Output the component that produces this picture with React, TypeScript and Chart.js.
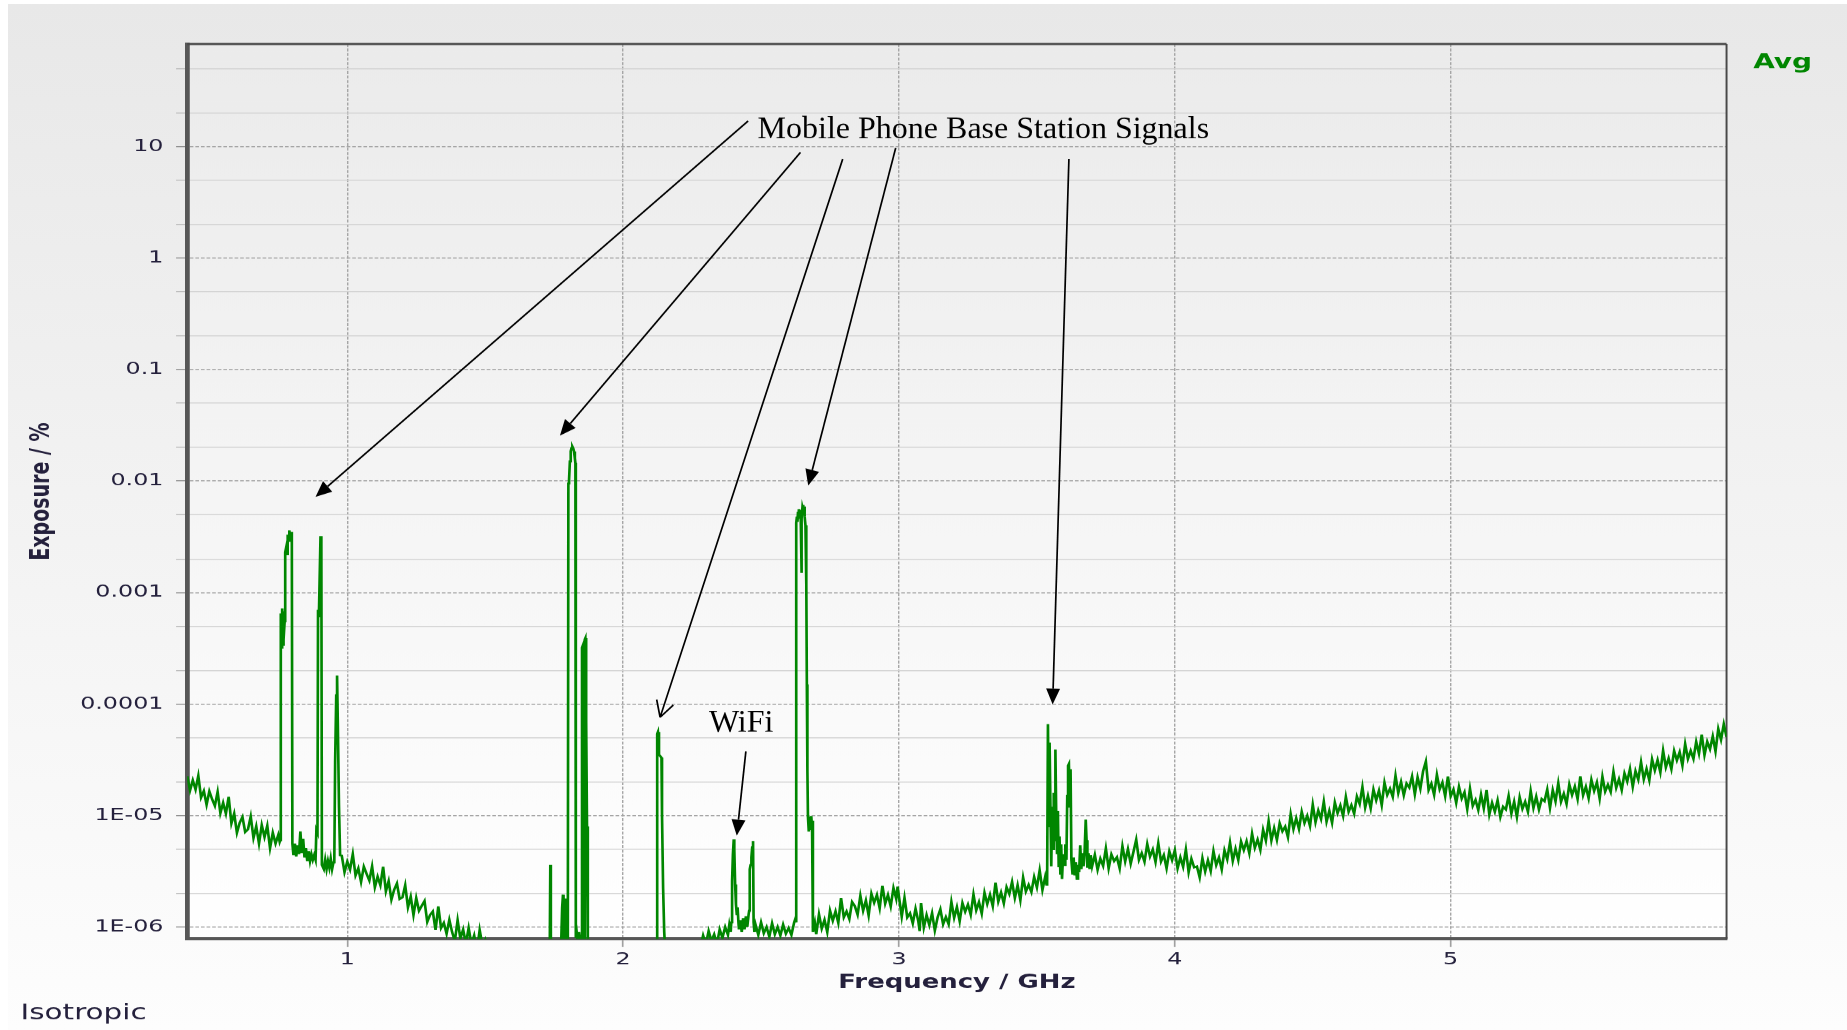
import { useEffect, useRef } from "react";
import { Chart, registerables } from "chart.js";

Chart.register(...registerables);
Chart.defaults.font.family = "DejaVu Sans";

// the source chart image was stretched sideways (~1.4x), so the canvas is drawn
// narrow and widened by css; the hand added notes are drawn un-stretched
const PAGE_W = 1839;
const PAGE_H = 1026;
const CANVAS_W = 1313;
const STRETCH = PAGE_W / CANVAS_W;

const seriesName = "Avg";
const probeName = "Isotropic";
const xTitle = "Frequency / GHz";
const yTitle = "Exposure / %";

const freqMin = 0.42;
const freqMax = 6.0;
const exposureMin = 7.8e-7;
const exposureMax = 83;

const freqTicks = [1, 2, 3, 4, 5];
const decadeTicks = [1e-6, 1e-5, 1e-4, 1e-3, 1e-2, 0.1, 1, 10];
const decadeLabels = ["1E-06", "1E-05", "0.0001", "0.001", "0.01", "0.1", "1", "10"];
const minorTicks = [2e-6, 5e-6, 2e-5, 5e-5, 2e-4, 5e-4, 2e-3, 5e-3, 0.02, 0.05, 0.2, 0.5, 2, 5, 20, 50];

// sweep: [frequency GHz, exposure %]
const floor042to075 = [
  [0.42, 2.25e-5], [0.43, 1.68e-5], [0.44, 2.07e-5], [0.45, 1.71e-5], [0.46, 2.27e-5], [0.47, 1.45e-5],
  [0.48, 1.66e-5], [0.49, 1.25e-5], [0.5, 1.65e-5], [0.51, 1.4e-5], [0.52, 1.22e-5], [0.53, 1.63e-5],
  [0.54, 1.05e-5], [0.55, 1.3e-5], [0.56, 1.04e-5], [0.57, 1.47e-5], [0.58, 8.5e-6], [0.59, 1.04e-5],
  [0.6, 7.0e-6], [0.61, 8.6e-6], [0.62, 9.7e-6], [0.63, 7.1e-6], [0.64, 7.5e-6], [0.65, 9.8e-6],
  [0.66, 6.3e-6], [0.67, 8.0e-6], [0.68, 5.6e-6], [0.69, 8.2e-6], [0.7, 6.4e-6], [0.71, 8.1e-6],
  [0.72, 5.1e-6], [0.73, 7.0e-6], [0.74, 5.6e-6], [0.75, 6.7e-6], [0.755, 5.8e-6],
];
const gsm800 = [
  [0.757, 6.0e-6], [0.758, 3.0e-4], [0.76, 6.5e-4], [0.762, 3.2e-4], [0.764, 7.2e-4], [0.766, 3.4e-4],
  [0.768, 6.8e-4], [0.77, 3.8e-4], [0.773, 5.5e-4], [0.775, 2.3e-3], [0.778, 2.5e-3], [0.781, 2.2e-3],
  [0.784, 3.3e-3], [0.787, 2.9e-3], [0.79, 3.6e-3], [0.793, 3.1e-3], [0.796, 3.5e-3], [0.799, 3.0e-3],
  [0.801, 5.6e-6],
];
const floor080to089 = [
  [0.805, 4.4e-6], [0.81, 5.6e-6], [0.815, 4.3e-6], [0.82, 5.4e-6], [0.825, 4.5e-6], [0.83, 7.2e-6],
  [0.835, 4.6e-6], [0.84, 6.2e-6], [0.845, 4.2e-6], [0.85, 5.1e-6], [0.855, 3.9e-6], [0.86, 4.8e-6],
  [0.865, 3.9e-6], [0.87, 4.5e-6], [0.875, 4.0e-6], [0.88, 4.4e-6], [0.885, 4.0e-6], [0.888, 7.4e-6],
  [0.892, 7.0e-6],
];
const gsm900 = [
  [0.894, 7.0e-4], [0.897, 6.0e-4], [0.9, 1.4e-3], [0.903, 3.2e-3], [0.906, 2.8e-3], [0.908, 3.6e-6],
];
const floor091to095 = [
  [0.915, 3.3e-6], [0.92, 4.0e-6], [0.925, 3.3e-6], [0.93, 3.9e-6], [0.935, 3.4e-6], [0.94, 4.1e-6],
  [0.945, 3.3e-6], [0.95, 3.8e-6],
];
const spike960 = [
  [0.953, 4.0e-6], [0.956, 3.0e-5], [0.96, 1.2e-4], [0.963, 1.8e-4], [0.966, 6.0e-5], [0.97, 1.2e-5],
  [0.974, 4.4e-6],
];
const floor098to151 = [
  [0.98, 4.37e-6], [0.99, 3.1e-6], [1.0, 3.85e-6], [1.01, 3.28e-6], [1.02, 4.5e-6], [1.03, 2.9e-6],
  [1.04, 3.36e-6], [1.05, 2.54e-6], [1.06, 3.48e-6], [1.07, 3.0e-6], [1.08, 2.61e-6], [1.09, 3.5e-6],
  [1.1, 2.27e-6], [1.11, 2.83e-6], [1.12, 2.37e-6], [1.13, 3.47e-6], [1.14, 2.09e-6], [1.15, 2.58e-6],
  [1.16, 1.76e-6], [1.17, 2.16e-6], [1.18, 2.46e-6], [1.19, 1.78e-6], [1.2, 1.84e-6], [1.21, 2.37e-6],
  [1.22, 1.5e-6], [1.23, 1.87e-6], [1.24, 1.28e-6], [1.25, 1.82e-6], [1.26, 1.4e-6], [1.27, 1.55e-6],
  [1.28, 1.71e-6], [1.29, 1.11e-6], [1.3, 1.28e-6], [1.31, 1.38e-6], [1.32, 9.4e-7], [1.33, 1.53e-6],
  [1.34, 9.8e-7], [1.35, 1.09e-6], [1.36, 8.7e-7], [1.37, 1.16e-6], [1.38, 9.0e-7], [1.39, 7.5e-7],
  [1.4, 1.15e-6], [1.41, 7.9e-7], [1.42, 9.5e-7], [1.43, 7.1e-7], [1.44, 9.8e-7], [1.45, 7.0e-7],
  [1.46, 8.4e-7], [1.47, 6.1e-7], [1.48, 9.4e-7], [1.49, 6.8e-7], [1.5, 7.7e-7], [1.51, 6.2e-7],
];
const below151to180 = [
  [1.55, 6.2e-7], [1.6, 6.4e-7], [1.65, 6.0e-7], [1.7, 5.8e-7], [1.734, 6.0e-7], [1.736, 3.6e-6],
  [1.738, 6.0e-7], [1.775, 6.5e-7], [1.779, 1.5e-6], [1.782, 1.95e-6], [1.784, 7.0e-7], [1.787, 1.8e-6],
  [1.79, 6.5e-7], [1.7995, 7.0e-7],
];
const dcs1800 = [
  [1.8015, 9.5e-3], [1.804, 1.03e-2], [1.807, 1.5e-2], [1.81, 1.85e-2], [1.813, 1.98e-2], [1.816, 2.04e-2],
  [1.819, 1.97e-2], [1.822, 1.84e-2], [1.825, 1.6e-2], [1.827, 1.45e-2], [1.8285, 8.0e-7], [1.832, 8.8e-7],
  [1.836, 7.0e-7], [1.84, 9.0e-7], [1.845, 7.0e-7], [1.849, 7.0e-7], [1.851, 3.2e-4], [1.853, 3.3e-4],
  [1.855, 7.0e-7], [1.859, 7.0e-7], [1.861, 3.8e-4], [1.863, 3.9e-4], [1.866, 7.0e-5], [1.869, 8.0e-6],
  [1.872, 7.0e-7],
];
const below187to212 = [
  [1.9, 6.0e-7], [1.95, 6.3e-7], [2.0, 5.9e-7], [2.05, 6.2e-7], [2.1, 6.0e-7], [2.122, 6.0e-7],
];
const umts2100 = [
  [2.1235, 5.4e-5], [2.126, 5.6e-5], [2.129, 4.9e-5], [2.131, 3.5e-5], [2.135, 3.4e-5], [2.139, 3.3e-5],
  [2.141, 1.0e-5], [2.145, 2.2e-6], [2.149, 9.0e-7], [2.152, 6.5e-7],
];
const floor215to239 = [
  [2.2, 6.0e-7], [2.25, 6.2e-7], [2.28, 6.5e-7], [2.29, 8.4e-7], [2.3, 7.0e-7], [2.31, 9.2e-7],
  [2.32, 7.5e-7], [2.33, 8.6e-7], [2.34, 7.0e-7], [2.35, 9.5e-7], [2.36, 8.0e-7], [2.37, 1.0e-6],
  [2.38, 8.5e-7], [2.385, 1.05e-6], [2.39, 9.0e-7],
];
const wifi24 = [
  [2.392, 1.1e-6], [2.395, 2.6e-6], [2.398, 4.5e-6], [2.401, 6.1e-6], [2.403, 5.0e-6], [2.406, 2.4e-6],
  [2.409, 1.6e-6], [2.412, 1.3e-6], [2.415, 1.5e-6], [2.418, 1.1e-6], [2.42, 9.5e-7], [2.425, 1.15e-6],
  [2.43, 9.0e-7], [2.435, 1.2e-6], [2.44, 9.5e-7], [2.445, 1.25e-6], [2.45, 1.0e-6], [2.455, 1.3e-6],
  [2.457, 1.4e-6], [2.459, 3.3e-6], [2.462, 3.6e-6], [2.465, 4.2e-6], [2.468, 5.2e-6], [2.471, 5.9e-6],
  [2.473, 1.1e-6], [2.476, 9.0e-7],
];
const floor248to262 = [
  [2.48, 1.05e-6], [2.49, 8.5e-7], [2.5, 1.1e-6], [2.51, 8.8e-7], [2.52, 1.0e-6], [2.53, 8.2e-7],
  [2.54, 1.08e-6], [2.55, 8.6e-7], [2.56, 1.0e-6], [2.57, 8.4e-7], [2.58, 1.05e-6], [2.59, 8.7e-7],
  [2.6, 9.8e-7], [2.61, 8.5e-7], [2.62, 1.1e-6], [2.625, 1.2e-6],
];
const lte2600 = [
  [2.627, 1.1e-6], [2.628, 4.2e-3], [2.63, 4.8e-3], [2.632, 4.3e-3], [2.634, 5.3e-3], [2.636, 4.6e-3],
  [2.638, 5.6e-3], [2.64, 4.9e-3], [2.642, 5.5e-3], [2.644, 4.4e-3], [2.646, 1.5e-3], [2.648, 4.6e-3],
  [2.65, 5.8e-3], [2.652, 6.1e-3], [2.654, 5.4e-3], [2.656, 5.9e-3], [2.658, 4.8e-3], [2.661, 4.0e-3],
  [2.664, 1.2e-3], [2.666, 1.5e-4], [2.668, 2.5e-5], [2.67, 9.8e-6], [2.673, 7.2e-6], [2.676, 9.6e-6],
  [2.679, 7.4e-6], [2.682, 9.9e-6], [2.685, 7.6e-6], [2.687, 9.0e-6], [2.689, 9.0e-7],
];
const floor269to353 = [
  [2.695, 1.09e-6], [2.7, 8.6e-7], [2.71, 1.3e-6], [2.72, 9.7e-7], [2.73, 1.16e-6], [2.74, 9.0e-7],
  [2.75, 1.4e-6], [2.76, 1.14e-6], [2.77, 1.38e-6], [2.78, 1.09e-6], [2.79, 1.82e-6], [2.8, 1.22e-6],
  [2.81, 1.38e-6], [2.82, 1.18e-6], [2.83, 1.68e-6], [2.84, 1.54e-6], [2.85, 1.29e-6], [2.86, 1.91e-6],
  [2.87, 1.4e-6], [2.88, 1.73e-6], [2.89, 1.27e-6], [2.9, 1.99e-6], [2.91, 1.65e-6], [2.92, 1.94e-6],
  [2.93, 1.48e-6], [2.94, 2.35e-6], [2.95, 1.62e-6], [2.96, 1.94e-6], [2.97, 1.53e-6], [2.98, 2.24e-6],
  [2.99, 1.79e-6], [2.995, 2.3e-6], [3.0, 1.87e-6], [3.01, 1.24e-6], [3.02, 1.83e-6], [3.03, 1.22e-6],
  [3.04, 1.33e-6], [3.05, 1.08e-6], [3.06, 1.46e-6], [3.07, 1.13e-6], [3.075, 9.2e-7], [3.08, 1.64e-6],
  [3.09, 9.9e-7], [3.1, 1.28e-6], [3.11, 1.04e-6], [3.12, 1.33e-6], [3.13, 9.3e-7], [3.14, 1.22e-6],
  [3.15, 1.44e-6], [3.16, 1.06e-6], [3.17, 1.23e-6], [3.18, 1.06e-6], [3.19, 1.68e-6], [3.2, 1.21e-6],
  [3.21, 1.51e-6], [3.22, 1.13e-6], [3.23, 1.64e-6], [3.24, 1.37e-6], [3.25, 1.59e-6], [3.26, 1.29e-6],
  [3.27, 1.96e-6], [3.28, 1.41e-6], [3.29, 1.67e-6], [3.3, 1.32e-6], [3.31, 2.03e-6], [3.32, 1.61e-6],
  [3.33, 1.95e-6], [3.34, 1.54e-6], [3.35, 2.5e-6], [3.36, 1.69e-6], [3.37, 2.04e-6], [3.38, 1.63e-6],
  [3.39, 2.28e-6], [3.4, 1.98e-6], [3.41, 2.54e-6], [3.42, 1.82e-6], [3.43, 2.37e-6], [3.44, 1.74e-6],
  [3.45, 2.78e-6], [3.46, 2.08e-6], [3.47, 2.39e-6], [3.48, 2.06e-6], [3.49, 2.81e-6], [3.5, 2.27e-6],
  [3.51, 3.22e-6], [3.52, 2.15e-6], [3.53, 2.81e-6], [3.535, 2.4e-6],
];
const band3500 = [
  [3.537, 2.5e-6], [3.54, 6.6e-5], [3.543, 8.0e-6], [3.546, 4.5e-5], [3.549, 1.2e-5], [3.552, 3.5e-6],
  [3.555, 1.1e-5], [3.558, 5.0e-6], [3.561, 1.6e-5], [3.564, 6.0e-6], [3.567, 3.9e-5], [3.57, 1.0e-5],
  [3.573, 4.5e-6], [3.576, 1.1e-5], [3.579, 3.5e-6], [3.582, 6.5e-6], [3.585, 3.0e-6], [3.588, 5.5e-6],
  [3.591, 2.7e-6], [3.595, 4.5e-6], [3.599, 3.6e-6], [3.603, 5.5e-6], [3.607, 4.0e-6], [3.61, 1.5e-5],
  [3.613, 2.8e-5], [3.616, 2.9e-5], [3.619, 1.2e-5], [3.622, 2.6e-5], [3.625, 4.0e-6], [3.629, 3.0e-6],
  [3.633, 4.2e-6], [3.637, 2.9e-6], [3.641, 3.8e-6], [3.645, 2.7e-6], [3.649, 3.6e-6], [3.653, 3.1e-6],
  [3.657, 5.4e-6], [3.661, 3.3e-6], [3.665, 4.6e-6], [3.669, 3.5e-6], [3.673, 4.8e-6], [3.677, 9.2e-6],
  [3.68, 6.0e-6], [3.683, 3.4e-6], [3.687, 4.6e-6], [3.691, 3.3e-6], [3.695, 4.4e-6], [3.7, 3.5e-6],
];
const floor371to450 = [
  [3.71, 4.44e-6], [3.72, 3.26e-6], [3.73, 4.1e-6], [3.74, 3.54e-6], [3.75, 5.07e-6], [3.76, 3.36e-6],
  [3.77, 4.48e-6], [3.78, 3.9e-6], [3.79, 4.23e-6], [3.8, 3.36e-6], [3.81, 5.31e-6], [3.82, 3.87e-6],
  [3.83, 5.0e-6], [3.84, 3.7e-6], [3.85, 4.72e-6], [3.86, 6.08e-6], [3.87, 4.0e-6], [3.88, 4.6e-6],
  [3.89, 3.85e-6], [3.9, 5.55e-6], [3.91, 4.28e-6], [3.92, 4.95e-6], [3.93, 3.83e-6], [3.94, 5.63e-6],
  [3.95, 3.87e-6], [3.96, 4.42e-6], [3.97, 3.36e-6], [3.98, 4.77e-6], [3.99, 3.98e-6], [4.0, 4.88e-6],
  [4.01, 3.36e-6], [4.02, 4.21e-6], [4.03, 3.47e-6], [4.04, 4.95e-6], [4.05, 3.11e-6], [4.06, 4.09e-6],
  [4.07, 3.42e-6], [4.08, 3.5e-6], [4.09, 2.79e-6], [4.1, 4.14e-6], [4.11, 3.15e-6], [4.12, 3.96e-6],
  [4.13, 3.18e-6], [4.14, 4.79e-6], [4.15, 3.59e-6], [4.16, 4.2e-6], [4.17, 3.28e-6], [4.18, 4.87e-6],
  [4.19, 4.04e-6], [4.2, 5.72e-6], [4.21, 3.92e-6], [4.22, 5.02e-6], [4.23, 3.98e-6], [4.24, 5.84e-6],
  [4.25, 4.9e-6], [4.26, 5.88e-6], [4.27, 4.59e-6], [4.28, 6.88e-6], [4.29, 5.13e-6], [4.3, 6.08e-6],
  [4.31, 4.92e-6], [4.32, 7.44e-6], [4.33, 5.95e-6], [4.34, 8.91e-6], [4.35, 5.98e-6], [4.36, 7.7e-6],
  [4.37, 6.05e-6], [4.38, 8.51e-6], [4.39, 7.22e-6], [4.4, 7.96e-6], [4.41, 6.4e-6], [4.42, 1.03e-5],
  [4.43, 7.56e-6], [4.44, 9.46e-6], [4.45, 7.57e-6], [4.46, 1.08e-5], [4.47, 8.56e-6], [4.48, 9.96e-6],
  [4.49, 8.06e-6], [4.5, 1.25e-5],
];
const floor451to600 = [
  [4.51, 8.7e-6], [4.52, 1.11e-5], [4.53, 9.3e-6], [4.54, 1.33e-5], [4.55, 8.8e-6], [4.56, 1.1e-5],
  [4.57, 8.6e-6], [4.58, 1.31e-5], [4.59, 1.05e-5], [4.6, 1.23e-5], [4.61, 9.9e-6], [4.62, 1.47e-5],
  [4.63, 1.08e-5], [4.64, 1.24e-5], [4.65, 1.04e-5], [4.66, 1.48e-5], [4.67, 1.27e-5], [4.68, 1.8e-5],
  [4.69, 1.18e-5], [4.7, 1.5e-5], [4.71, 1.16e-5], [4.72, 1.71e-5], [4.73, 1.37e-5], [4.74, 1.67e-5],
  [4.75, 1.24e-5], [4.76, 1.97e-5], [4.77, 1.53e-5], [4.78, 1.74e-5], [4.79, 1.47e-5], [4.8, 2.28e-5],
  [4.81, 1.59e-5], [4.82, 2.0e-5], [4.83, 1.52e-5], [4.84, 1.94e-5], [4.85, 1.78e-5], [4.86, 2.24e-5],
  [4.87, 1.55e-5], [4.88, 2.2e-5], [4.89, 1.74e-5], [4.9, 2.5e-5], [4.91, 3.05e-5], [4.92, 1.69e-5],
  [4.93, 1.93e-5], [4.94, 1.53e-5], [4.95, 2.32e-5], [4.96, 1.72e-5], [4.97, 1.98e-5], [4.98, 1.49e-5],
  [4.99, 2.24e-5], [5.0, 1.49e-5], [5.01, 1.71e-5], [5.02, 1.3e-5], [5.03, 1.81e-5], [5.04, 1.42e-5],
  [5.05, 1.62e-5], [5.06, 1.14e-5], [5.07, 1.74e-5], [5.08, 1.22e-5], [5.09, 1.38e-5], [5.1, 1.12e-5],
  [5.11, 1.54e-5], [5.12, 1.16e-5], [5.13, 1.69e-5], [5.14, 1.02e-5], [5.15, 1.3e-5], [5.16, 1.08e-5],
  [5.17, 1.37e-5], [5.18, 9.7e-6], [5.19, 1.2e-5], [5.2, 1.13e-5], [5.21, 1.5e-5], [5.22, 1.04e-5],
  [5.23, 1.33e-5], [5.24, 9.7e-6], [5.25, 1.46e-5], [5.26, 1.15e-5], [5.27, 1.33e-5], [5.28, 1.08e-5],
  [5.29, 1.66e-5], [5.3, 1.17e-5], [5.31, 1.48e-5], [5.32, 1.13e-5], [5.33, 1.41e-5], [5.34, 1.34e-5],
  [5.35, 1.71e-5], [5.36, 1.17e-5], [5.37, 1.69e-5], [5.38, 1.34e-5], [5.39, 1.95e-5], [5.4, 1.33e-5],
  [5.41, 1.57e-5], [5.42, 1.27e-5], [5.43, 1.9e-5], [5.44, 1.53e-5], [5.45, 1.82e-5], [5.46, 1.41e-5],
  [5.47, 2.25e-5], [5.48, 1.52e-5], [5.49, 1.81e-5], [5.5, 1.43e-5], [5.51, 2.09e-5], [5.52, 1.66e-5],
  [5.53, 1.98e-5], [5.54, 1.42e-5], [5.55, 2.23e-5], [5.56, 1.64e-5], [5.57, 1.89e-5], [5.58, 1.63e-5],
  [5.59, 2.47e-5], [5.6, 1.77e-5], [5.61, 2.12e-5], [5.62, 1.69e-5], [5.63, 2.39e-5], [5.64, 2.02e-5],
  [5.65, 2.62e-5], [5.66, 1.81e-5], [5.67, 2.5e-5], [5.68, 2.1e-5], [5.69, 3.01e-5], [5.7, 2.11e-5],
  [5.71, 2.62e-5], [5.72, 2.07e-5], [5.73, 3.19e-5], [5.74, 2.54e-5], [5.75, 3.14e-5], [5.76, 2.44e-5],
  [5.77, 3.82e-5], [5.78, 2.71e-5], [5.79, 3.26e-5], [5.8, 2.61e-5], [5.81, 3.8e-5], [5.82, 3.13e-5],
  [5.83, 3.7e-5], [5.84, 2.81e-5], [5.85, 4.38e-5], [5.86, 3.22e-5], [5.87, 3.81e-5], [5.88, 3.22e-5],
  [5.89, 4.58e-5], [5.9, 3.59e-5], [5.91, 5.31e-5], [5.92, 3.48e-5], [5.93, 4.6e-5], [5.94, 3.94e-5],
  [5.95, 5.13e-5], [5.96, 3.76e-5], [5.97, 5.98e-5], [5.98, 4.79e-5], [5.99, 6.6e-5], [6.0, 5.06e-5],
];

const sweep = [
  ...floor042to075, ...gsm800, ...floor080to089, ...gsm900, ...floor091to095, ...spike960,
  ...floor098to151, ...below151to180, ...dcs1800, ...below187to212, ...umts2100, ...floor215to239,
  ...wifi24, ...floor248to262, ...lte2600, ...floor269to353, ...band3500, ...floor371to450, ...floor451to600,
];

// hand drawn notes, placed in data units
const noteLabels = [
  { text: "Mobile Phone Base Station Signals", freq: 3.306, exposure: 11.9 },
  { text: "WiFi", freq: 2.428, exposure: 5.68e-5 },
];
const noteArrows = [
  { from: [2.453, 16.9], to: [0.885, 7.2e-3], open: false },
  { from: [2.643, 8.85], to: [1.771, 0.0255], open: false },
  { from: [2.796, 7.73], to: [2.134, 7.6e-5], open: true },
  { from: [2.988, 9.69], to: [2.671, 9.1e-3], open: false },
  { from: [3.616, 7.73], to: [3.557, 9.9e-5], open: false },
  { from: [2.445, 3.76e-5], to: [2.412, 6.6e-6], open: false },
];

const isDecade = (v: number) => decadeTicks.some((d) => Math.abs(d - v) / d < 1e-6);

const decorPlugin = {
  id: "decor",
  beforeDraw(chart: any) {
    const { ctx, chartArea: a } = chart;
    const g = ctx.createLinearGradient(0, a.top, 0, a.bottom);
    g.addColorStop(0, "#ebebeb");
    g.addColorStop(1, "#ffffff");
    ctx.save();
    ctx.fillStyle = g;
    ctx.fillRect(a.left, a.top, a.right - a.left, a.bottom - a.top);
    ctx.restore();
  },
  beforeDatasetsDraw(chart: any) {
    // top and right edge of the plot frame
    const { ctx, chartArea: a } = chart;
    ctx.save();
    ctx.strokeStyle = "#484848";
    ctx.lineWidth = 2;
    ctx.beginPath();
    ctx.moveTo(a.left, a.top);
    ctx.lineTo(a.right, a.top);
    ctx.stroke();
    ctx.lineWidth = 1.4;
    ctx.beginPath();
    ctx.moveTo(a.right, a.top);
    ctx.lineTo(a.right, a.bottom);
    ctx.stroke();
    ctx.restore();
  },
  afterDraw(chart: any) {
    const { ctx, chartArea: a } = chart;
    const ds = chart.data.datasets[0];
    const xs = chart.scales.x;
    const ys = chart.scales.y;

    ctx.save();
    ctx.textBaseline = "alphabetic";
    ctx.textAlign = "left";
    ctx.fillStyle = ds.borderColor;
    ctx.font = "bold 20px 'DejaVu Sans'";
    ctx.fillText(ds.label, a.right + 19, a.top + 24);
    ctx.fillStyle = "#24203c";
    ctx.font = "21px 'DejaVu Sans'";
    ctx.fillText(probeName, 9, chart.height - 11);

    // notes are not stretched: undo the css widening
    ctx.scale(1 / STRETCH, 1);
    ctx.fillStyle = "#000";
    ctx.strokeStyle = "#000";
    ctx.lineWidth = 1.7;
    ctx.font = "32px 'Liberation Serif'";
    ctx.textAlign = "center";
    noteLabels.forEach((n) => {
      ctx.fillText(n.text, xs.getPixelForValue(n.freq) * STRETCH, ys.getPixelForValue(n.exposure));
    });

    noteArrows.forEach((arrow) => {
      const x0 = xs.getPixelForValue(arrow.from[0]) * STRETCH;
      const y0 = ys.getPixelForValue(arrow.from[1]);
      const x1 = xs.getPixelForValue(arrow.to[0]) * STRETCH;
      const y1 = ys.getPixelForValue(arrow.to[1]);
      const len = Math.hypot(x1 - x0, y1 - y0);
      const ux = (x1 - x0) / len;
      const uy = (y1 - y0) / len;
      if (arrow.open) {
        ctx.beginPath();
        ctx.moveTo(x0, y0);
        ctx.lineTo(x1, y1);
        const t = (29 * Math.PI) / 180;
        [-1, 1].forEach((s) => {
          const vx = -ux * Math.cos(t) + uy * Math.sin(s * t);
          const vy = -ux * Math.sin(s * t) - uy * Math.cos(t);
          ctx.moveTo(x1, y1);
          ctx.lineTo(x1 + vx * 18, y1 + vy * 18);
        });
        ctx.stroke();
      } else {
        const bx = x1 - ux * 16;
        const by = y1 - uy * 16;
        ctx.beginPath();
        ctx.moveTo(x0, y0);
        ctx.lineTo(bx, by);
        ctx.stroke();
        ctx.beginPath();
        ctx.moveTo(x1, y1);
        ctx.lineTo(bx - uy * 7, by + ux * 7);
        ctx.lineTo(bx + uy * 7, by - ux * 7);
        ctx.closePath();
        ctx.fill();
      }
    });
    ctx.restore();
  },
};

export default function App() {
  const canvasRef = useRef<HTMLCanvasElement | null>(null);

  useEffect(() => {
    if (!canvasRef.current) return;
    const textColor = "#24203c";

    const chart = new Chart(canvasRef.current, {
      type: "line",
      data: {
        datasets: [
          {
            label: seriesName,
            data: sweep.map(([f, v]) => ({ x: f, y: v })),
            borderColor: "#008600",
            borderWidth: 1.9,
            pointRadius: 0,
            tension: 0,
            fill: false,
            xAxisID: "x",
            yAxisID: "y",
          },
        ],
      },
      options: {
        responsive: false,
        animation: false,
        devicePixelRatio: STRETCH,
        layout: { padding: { top: 40, right: 86, left: 0, bottom: 0 } },
        plugins: { legend: { display: false }, tooltip: { enabled: false } },
        scales: {
          x: {
            type: "linear",
            min: freqMin,
            max: freqMax,
            afterBuildTicks: (s: any) => {
              s.ticks = freqTicks.map((value) => ({ value }));
            },
            afterFit: (s: any) => {
              s.height = 91;
            },
            grid: { color: "#a6a6a6", lineWidth: 1, tickLength: 8, tickColor: "#a0a0a0", tickWidth: 1.2 },
            border: { display: true, color: "#575757", width: 3, dash: [3, 1.5] },
            ticks: {
              font: { size: 17 },
              color: textColor,
              padding: 3,
              autoSkip: false,
              maxRotation: 0,
              callback: (v: any) => String(v),
            },
            title: {
              display: true,
              text: xTitle,
              font: { size: 18.5, weight: "bold" },
              color: textColor,
              padding: { top: 0, bottom: 36 },
            },
          },
          y: {
            type: "logarithmic",
            min: exposureMin,
            max: exposureMax,
            afterBuildTicks: (s: any) => {
              s.ticks = [...decadeTicks, ...minorTicks]
                .sort((p, q) => p - q)
                .map((value) => ({ value, major: isDecade(value) }));
            },
            afterFit: (s: any) => {
              s.width = 128;
            },
            grid: {
              color: (c: any) => (c.tick && isDecade(c.tick.value) ? "#a3a3a3" : "rgba(0,0,0,0)"),
              lineWidth: 1,
              tickLength: 8,
              tickColor: (c: any) => (c.tick && isDecade(c.tick.value) ? "#8c8c8c" : "#b8b8b8"),
            },
            border: { display: true, color: "#575757", width: 3.4, dash: [2.6, 1.4] },
            ticks: {
              font: { size: 17 },
              color: textColor,
              padding: 9,
              autoSkip: false,
              callback: (v: any) => {
                const i = decadeTicks.findIndex((d) => Math.abs(d - v) / d < 1e-6);
                return i >= 0 ? decadeLabels[i] : "";
              },
            },
            title: {
              display: true,
              text: yTitle,
              font: { size: 19, weight: "bold" },
              color: textColor,
              padding: { top: 13, bottom: 0 },
            },
          },
          yMinor: {
            type: "logarithmic",
            position: "right",
            min: exposureMin,
            max: exposureMax,
            afterBuildTicks: (s: any) => {
              s.ticks = minorTicks.map((value) => ({ value }));
            },
            afterFit: (s: any) => {
              s.width = 0;
            },
            grid: { color: "#d3d3d3", lineWidth: 1, drawTicks: false, z: -1 },
            border: { display: false },
            ticks: { display: false },
          },
        },
      } as any,
      plugins: [decorPlugin],
    });

    return () => {
      chart.destroy();
    };
  }, []);

  return (
    <div
      style={{
        position: "fixed",
        left: 8,
        top: 4,
        width: PAGE_W,
        height: PAGE_H,
        background: "linear-gradient(#e8e8e8, #fdfdfd)",
      }}
    >
      <canvas
        ref={canvasRef}
        width={CANVAS_W}
        height={PAGE_H}
        style={{ width: PAGE_W, height: PAGE_H, display: "block" }}
      />
    </div>
  );
}
